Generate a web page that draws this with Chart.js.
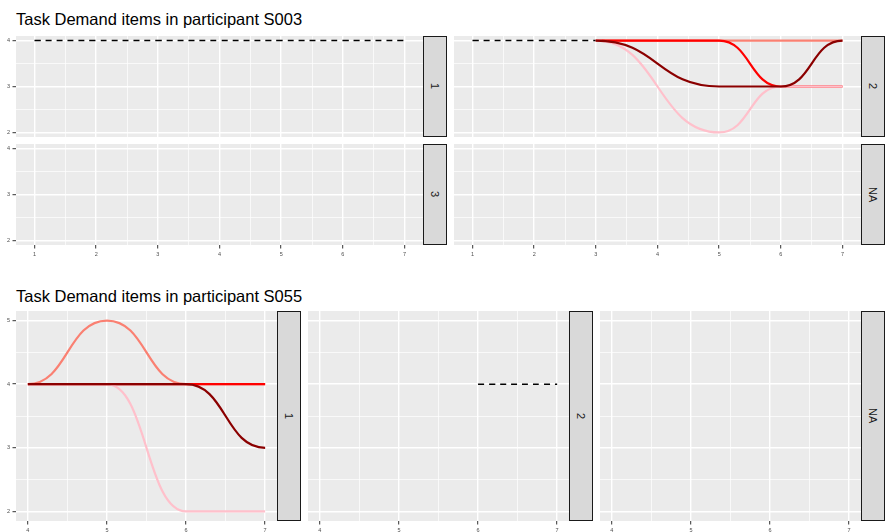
<!DOCTYPE html>
<html lang="en">
<head>
<meta charset="UTF-8">
<title>Task Demand items</title>
<script src="https://cdn.jsdelivr.net/npm/chart.js@4"></script>
<style>
  html, body { margin: 0; padding: 0; background: #fff; overflow: hidden; }
  body { width: 889px; height: 532px; position: relative; font-family: 'Liberation Sans', Arial, sans-serif; }
  .title { position: absolute; left: 16px; font-size: 16.5px; line-height: 16.5px; color: #000; white-space: nowrap; }
  .strip { position: absolute; box-sizing: border-box; background: #d9d9d9; border: 1px solid #1a1a1a;
           color: #1a1a1a; font-size: 11px; writing-mode: vertical-rl; display: flex;
           align-items: center; justify-content: center; }
  canvas { position: absolute; }
</style>
</head>
<body>
<div class="title" style="top:10.5px">Task Demand items in participant S003</div>
<div class="title" style="top:287.5px">Task Demand items in participant S055</div>
<script>
// participant S003, facet 2 (session on x, rating on y)
const s003Days = [3, 5, 6, 7];
const s003Salmon = [4, 4, 4, 4];
const s003Red = [4, 4, 3, 3];
const s003Pink = [4, 2, 3, 3];
const s003DarkRed = [4, 3, 3, 4];
// dashed (no item) lines
const s003DashDays1 = [1, 2, 3, 4, 5, 6, 7];
const s003DashVals1 = [4, 4, 4, 4, 4, 4, 4];
const s003DashDays2 = [1, 2, 3];
const s003DashVals2 = [4, 4, 4];

// participant S055, facet 1
const s055Days = [4, 5, 6, 7];
const s055Salmon = [4, 5, 4, 4];
const s055Red = [4, 4, 4, 4];
const s055Pink = [4, 4, 2, 2];
const s055DarkRed = [4, 4, 4, 3];
const s055DashDays2 = [6, 7];
const s055DashVals2 = [4, 4];

const s003XTicks = [1, 2, 3, 4, 5, 6, 7];
const s003YTicks = [2, 3, 4];
const s055XTicks = [4, 5, 6, 7];
const s055YTicks = [2, 3, 4, 5];

const FONT = "'Liberation Sans', Arial, sans-serif";

const pts = (xs, ys) => xs.map((x, i) => ({ x: x, y: ys[i] }));

function itemSets(days, salmon, red, pink, darkred) {
  return [
    { data: pts(days, salmon), borderColor: '#FA8072', order: 3 },
    { data: pts(days, red), borderColor: '#FF0000', order: 2 },
    { data: pts(days, pink), borderColor: '#FFC0CB', order: 1 },
    { data: pts(days, darkred), borderColor: '#8B0000', order: 0 }
  ];
}
function dashSet(days, vals) {
  return { data: pts(days, vals), borderColor: '#000000', borderWidth: 1.5, borderDash: [6, 5], order: 4 };
}

// grey panel background
const panelBg = {
  id: 'panelBg',
  beforeDraw(chart) {
    const a = chart.chartArea, c = chart.ctx;
    c.save();
    c.fillStyle = '#EBEBEB';
    c.fillRect(a.left, a.top, a.right - a.left, a.bottom - a.top);
    c.restore();
  }
};

// flat tangents at every point, like a bump chart
const bumpCurves = {
  id: 'bumpCurves',
  beforeDatasetDraw(chart, args) {
    const pl = args.meta.data;
    pl.forEach((p, i) => {
      const prev = pl[i - 1], next = pl[i + 1];
      p.cp1x = prev ? (prev.x + p.x) / 2 : p.x;
      p.cp1y = p.y;
      p.cp2x = next ? (p.x + next.x) / 2 : p.x;
      p.cp2y = p.y;
    });
    if (args.meta.dataset) args.meta.dataset._pointsUpdated = true;
  }
};

function withMinor(major) {
  const out = [];
  major.forEach((v, i) => {
    out.push(v);
    if (i < major.length - 1) out.push((v + major[i + 1]) / 2);
  });
  return out;
}

function axis(major, show, size) {
  const lo = major[0], hi = major[major.length - 1], pad = (hi - lo) * 0.05;
  const isMajor = c => c.tick && major.includes(c.tick.value);
  return {
    type: 'linear',
    min: lo - pad,
    max: hi + pad,
    afterBuildTicks: s => { s.ticks = withMinor(major).map(v => ({ value: v })); },
    afterFit: s => {
      if (s.isHorizontal()) s.height = size; else s.width = size;
      s.paddingLeft = s.paddingRight = s.paddingTop = s.paddingBottom = 0;
    },
    border: { display: false },
    grid: {
      color: '#ffffff',
      lineWidth: c => isMajor(c) ? 1.4 : 0.7,
      drawTicks: show,
      tickLength: 3.5,
      tickWidth: 1,
      tickColor: c => isMajor(c) ? '#333333' : 'rgba(0,0,0,0)'
    },
    ticks: {
      display: show,
      autoSkip: false,
      maxRotation: 0,
      padding: 2.5,
      color: '#4d4d4d',
      font: { family: FONT, size: 5.5 },
      callback: v => Number.isInteger(v) ? String(v) : ''
    }
  };
}

function panel(box, xMajor, yMajor, showX, showY, datasets) {
  const axisW = showY ? 16 : 0, axisH = showX ? 14 : 0;
  const cv = document.createElement('canvas');
  cv.width = box.w + axisW;
  cv.height = box.h + axisH;
  cv.style.left = (box.x - axisW) + 'px';
  cv.style.top = box.y + 'px';
  document.body.appendChild(cv);
  new Chart(cv, {
    type: 'line',
    data: { datasets: datasets },
    options: {
      responsive: false,
      animation: false,
      devicePixelRatio: 1,
      events: [],
      layout: { padding: 0 },
      plugins: { legend: { display: false }, tooltip: { enabled: false } },
      elements: {
        point: { radius: 0 },
        line: { borderWidth: 2.2, tension: 0.4, fill: false, borderCapStyle: 'butt' }
      },
      scales: { x: axis(xMajor, showX, axisH), y: axis(yMajor, showY, axisW) }
    },
    plugins: [panelBg, bumpCurves]
  });
}

function strip(label, x, y, w, h) {
  const d = document.createElement('div');
  d.className = 'strip';
  d.style.left = x + 'px'; d.style.top = y + 'px';
  d.style.width = w + 'px'; d.style.height = h + 'px';
  d.textContent = label;
  document.body.appendChild(d);
}

// S003: 2 x 2 grid
panel({ x: 16, y: 36, w: 407, h: 101 }, s003XTicks, s003YTicks, false, true, [dashSet(s003DashDays1, s003DashVals1)]);
panel({ x: 454, y: 36, w: 407, h: 101 }, s003XTicks, s003YTicks, false, false,
  [dashSet(s003DashDays2, s003DashVals2)].concat(itemSets(s003Days, s003Salmon, s003Red, s003Pink, s003DarkRed)));
panel({ x: 16, y: 144, w: 407, h: 101 }, s003XTicks, s003YTicks, true, true, []);
panel({ x: 454, y: 144, w: 407, h: 101 }, s003XTicks, s003YTicks, true, false, []);
strip('1', 423, 36, 24, 101);
strip('2', 861, 36, 24, 101);
strip('3', 423, 144, 24, 101);
strip('NA', 861, 144, 24, 101);

// S055: 1 x 3 row
panel({ x: 16, y: 311, w: 261, h: 210 }, s055XTicks, s055YTicks, true, true,
  itemSets(s055Days, s055Salmon, s055Red, s055Pink, s055DarkRed));
panel({ x: 308, y: 311, w: 261, h: 210 }, s055XTicks, s055YTicks, true, false, [dashSet(s055DashDays2, s055DashVals2)]);
panel({ x: 600, y: 311, w: 261, h: 210 }, s055XTicks, s055YTicks, true, false, []);
strip('1', 277, 311, 24, 210);
strip('2', 569, 311, 24, 210);
strip('NA', 861, 311, 24, 210);
</script>
</body>
</html>
